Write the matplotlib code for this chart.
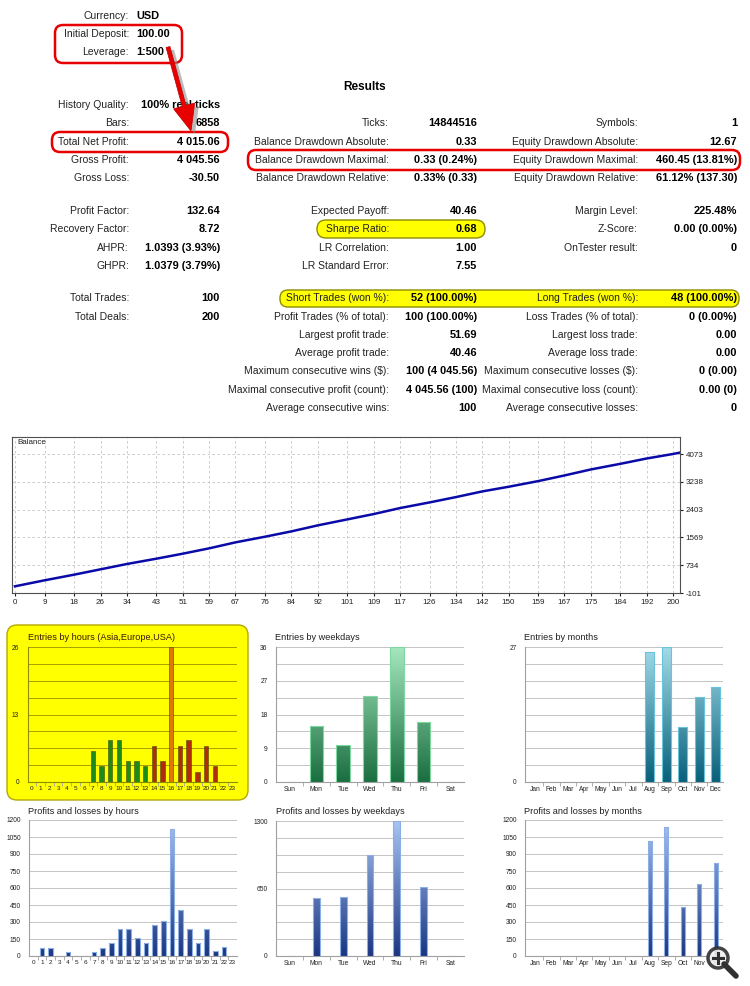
import numpy as np
import matplotlib
matplotlib.use('Agg')
import matplotlib.pyplot as plt
from matplotlib.patches import FancyBboxPatch, FancyArrow, Circle
from matplotlib.colors import LinearSegmentedColormap
from matplotlib.lines import Line2D

plt.rcParams['font.family'] = ['Liberation Sans', 'DejaVu Sans']

# ---------------- data ----------------
top_labels = ['Currency:', 'Initial Deposit:', 'Leverage:']
top_values = ['USD', '100.00', '1:500']

col1_labels = ['History Quality:', 'Bars:', 'Total Net Profit:', 'Gross Profit:', 'Gross Loss:',
               'Profit Factor:', 'Recovery Factor:', 'AHPR:', 'GHPR:', 'Total Trades:', 'Total Deals:']
col1_values = ['100% real ticks', '6858', '4 015.06', '4 045.56', '-30.50',
               '132.64', '8.72', '1.0393 (3.93%)', '1.0379 (3.79%)', '100', '200']

col2_labels = ['Ticks:', 'Balance Drawdown Absolute:', 'Balance Drawdown Maximal:', 'Balance Drawdown Relative:',
               'Expected Payoff:', 'Sharpe Ratio:', 'LR Correlation:', 'LR Standard Error:',
               'Short Trades (won %):', 'Profit Trades (% of total):', 'Largest profit trade:',
               'Average profit trade:', 'Maximum consecutive wins ($):', 'Maximal consecutive profit (count):',
               'Average consecutive wins:']
col2_values = ['14844516', '0.33', '0.33 (0.24%)', '0.33% (0.33)',
               '40.46', '0.68', '1.00', '7.55',
               '52 (100.00%)', '100 (100.00%)', '51.69',
               '40.46', '100 (4 045.56)', '4 045.56 (100)',
               '100']

col3_labels = ['Symbols:', 'Equity Drawdown Absolute:', 'Equity Drawdown Maximal:', 'Equity Drawdown Relative:',
               'Margin Level:', 'Z-Score:', 'OnTester result:',
               'Long Trades (won %):', 'Loss Trades (% of total):', 'Largest loss trade:', 'Average loss trade:',
               'Maximum consecutive losses ($):', 'Maximal consecutive loss (count):', 'Average consecutive losses:']
col3_values = ['1', '12.67', '460.45 (13.81%)', '61.12% (137.30)',
               '225.48%', '0.00 (0.00%)', '0',
               '48 (100.00%)', '0 (0.00%)', '0.00', '0.00',
               '0 (0.00)', '0.00 (0)', '0']

balance_deals = [0, 9, 18, 26, 34, 43, 51, 59, 67, 76, 84, 92, 101, 109, 117, 126, 134, 142, 150,
                 159, 167, 175, 184, 192, 200, 202]
balance_values = [100, 280, 450, 610, 770, 930, 1080, 1240, 1420, 1590, 1750, 1930, 2110, 2270, 2450,
                  2620, 2780, 2950, 3090, 3260, 3430, 3610, 3780, 3940, 4075, 4115]
balance_xticks = [0, 9, 18, 26, 34, 43, 51, 59, 67, 76, 84, 92, 101, 109, 117, 126, 134, 142, 150,
                  159, 167, 175, 184, 192, 200]
balance_yticks = [-101, 734, 1569, 2403, 3238, 4073]

hours = list(range(24))
entries_hours = [0, 0, 0, 0, 0, 0, 0, 6, 3, 8, 8, 4, 4, 3, 7, 4, 26, 7, 8, 2, 7, 3, 0, 0]
profit_hours = [0, 74, 74, 0, 38, 0, 0, 38, 74, 118, 236, 236, 160, 118, 275, 307, 1117, 408, 236,
                115, 236, 41, 80, 0]

weekdays = ['Sun', 'Mon', 'Tue', 'Wed', 'Thu', 'Fri', 'Sat']
entries_weekdays = [0, 15, 10, 23, 36, 16, 0]
profit_weekdays = [0, 560, 566, 972, 1300, 669, 0]

months = ['Jan', 'Feb', 'Mar', 'Apr', 'May', 'Jun', 'Jul', 'Aug', 'Sep', 'Oct', 'Nov', 'Dec']
entries_months = [0, 0, 0, 0, 0, 0, 0, 26, 27, 11, 17, 19]
profit_months = [0, 0, 0, 0, 0, 0, 0, 1014, 1138, 432, 632, 819]

# ---------------- figure ----------------
W, H = 750, 986
fig = plt.figure(figsize=(W / 100, H / 100), dpi=100)
fig.patch.set_facecolor('white')


def rect(x0, y0, x1, y1):
    return [x0 / W, 1 - y1 / H, (x1 - x0) / W, (y1 - y0) / H]


ax0 = fig.add_axes([0, 0, 1, 1], zorder=0)
ax0.set_xlim(0, W)
ax0.set_ylim(H, 0)
ax0.axis('off')

FSL = 7.5
FSV = 7.9
LAB = '#222222'


def rbox(x0, y0, x1, y1, fc, ec, lw, r):
    p = FancyBboxPatch((x0, y0), x1 - x0, y1 - y0, boxstyle=f'round,pad=0,rounding_size={r}',
                       fc=fc, ec=ec, lw=lw, zorder=1)
    ax0.add_patch(p)


# highlight boxes (behind text)
rbox(317, 220, 485, 238, '#ffff00', '#8c8c00', 1.0, 9)
rbox(280, 290, 739, 307, '#ffff00', '#8c8c00', 1.0, 8)

# top block
for lab, val, y in zip(top_labels, top_values, [16, 34, 52]):
    ax0.text(129, y, lab, ha='right', va='center', fontsize=FSL, color=LAB, zorder=3, parse_math=False)
    ax0.text(136, y, val, ha='left', va='center', fontsize=FSV, fontweight='bold', color='black', zorder=3,
             parse_math=False)

ax0.text(365, 87, 'Results', ha='center', va='center', fontsize=8.5, fontweight='bold', color='black', zorder=3)

rows1 = [105, 123, 142, 160, 178, 211, 229, 248, 266, 298, 317]
rows2 = [123, 142, 160, 178, 211, 229, 248, 266, 298, 317, 335, 353, 371, 390, 408]
rows3 = [123, 142, 160, 178, 211, 229, 248, 298, 317, 335, 353, 371, 390, 408]

for labs, vals, rows, xl, xv in [(col1_labels, col1_values, rows1, 129, 220),
                                 (col2_labels, col2_values, rows2, 389, 477),
                                 (col3_labels, col3_values, rows3, 638, 737)]:
    for lab, val, y in zip(labs, vals, rows):
        ax0.text(xl, y, lab, ha='right', va='center', fontsize=FSL, color=LAB, zorder=3, parse_math=False)
        ax0.text(xv, y, val, ha='right', va='center', fontsize=FSV, fontweight='bold', color='black',
                 zorder=3, parse_math=False)

# red boxes
for (x0, y0, x1, y1) in [(55, 25, 182, 63), (52, 132, 228, 152), (248, 150, 740, 170)]:
    p = FancyBboxPatch((x0, y0), x1 - x0, y1 - y0, boxstyle='round,pad=0,rounding_size=8',
                       fc='none', ec='#e80000', lw=1.8, zorder=4)
    ax0.add_patch(p)

# arrow with shadow
ax0.add_patch(FancyArrow(172, 50, 23, 84, width=4, head_width=22, head_length=26,
                         length_includes_head=True, fc='#909090', ec='none', alpha=0.6, zorder=5))
ax0.add_patch(FancyArrow(168, 47, 23, 84, width=4, head_width=22, head_length=26,
                         length_includes_head=True, fc='#e80000', ec='#c00000', lw=0.5, zorder=6))

# yellow panel background for first chart
rbox(7, 625, 248, 800, '#ffff00', '#b4a800', 1.0, 10)

# ---------------- balance chart ----------------
axb = fig.add_axes(rect(12, 437, 680, 593), zorder=2)
axb.plot(balance_deals, balance_values, color='#0a0aa8', lw=1.8)
axb.set_xlim(-0.9, 202.1)
axb.set_ylim(-101, 4585)
axb.set_xticks(balance_xticks)
axb.set_xticklabels([str(v) for v in balance_xticks])
axb.set_yticks(balance_yticks)
axb.set_yticklabels([str(v) for v in balance_yticks])
axb.yaxis.tick_right()
axb.tick_params(labelsize=5.8, length=2, pad=2, colors='#202020')
axb.grid(True, ls=(0, (3, 3)), color='#c4c4c4', lw=0.6)
for s in axb.spines.values():
    s.set_color('#505050')
    s.set_linewidth(0.8)
axb.text(5 / 668, 1 - 6 / 156, 'Balance', transform=axb.transAxes, ha='left', va='center', fontsize=5.8,
         color='#202020')


# ---------------- small charts ----------------
def style_panel(ax, ylim, major, minor, labels, xlabels, gridc, spinec, xlim, fsx=4.8):
    ax.set_facecolor('none')
    ax.set_xlim(*xlim)
    ax.set_ylim(0, ylim)
    ax.set_yticks(major)
    ax.set_yticklabels(labels)
    ax.set_yticks(minor, minor=True)
    ax.set_xticks(range(len(xlabels)))
    ax.set_xticklabels(xlabels)
    ax.set_xticks(np.arange(len(xlabels) - 1) + 0.5, minor=True)
    ax.tick_params(axis='y', which='both', length=0, pad=6, labelsize=4.8, colors='#202020')
    ax.tick_params(axis='x', which='major', length=0, pad=3, labelsize=fsx, colors='#202020')
    ax.tick_params(axis='x', which='minor', length=3, width=0.6, color='#a0a0a0', direction='out')
    ax.grid(True, axis='y', which='both', color=gridc, lw=0.7, ls='-')
    ax.set_axisbelow(True)
    ax.spines['top'].set_visible(False)
    ax.spines['right'].set_visible(False)
    ax.spines['left'].set_color(spinec)
    ax.spines['bottom'].set_color(spinec)
    ax.spines['left'].set_linewidth(0.8)
    ax.spines['bottom'].set_linewidth(0.8)


def gradient_bars(ax, xs, vals, width, c_bot, c_top, ymax, edge):
    bars = ax.bar(xs, vals, width=width, color=c_bot, zorder=3, lw=0)
    cmap = LinearSegmentedColormap.from_list('g', [c_bot, c_top])
    grad = np.linspace(0, 1, 256).reshape(-1, 1)
    for b in bars:
        if b.get_height() <= 0:
            continue
        x0 = b.get_x()
        w = b.get_width()
        im = ax.imshow(grad, cmap=cmap, origin='lower', aspect='auto', vmin=0, vmax=1,
                       extent=[x0, x0 + w, 0, ymax], zorder=3.5, interpolation='bilinear')
        im.set_clip_path(b)
    ax.bar(xs, vals, width=width, fill=False, edgecolor=edge, lw=0.8, zorder=4)


def title(ax, x, y, t, color='#202020'):
    ax0.text(x, y, t, ha='left', va='center', fontsize=6.6, color=color, zorder=3)


# P1 entries by hours
ax1 = fig.add_axes(rect(27.6, 647, 236.5, 782), zorder=2)
peak = max(entries_hours)
cols1 = []
for h, v in zip(hours, entries_hours):
    if v == peak:
        cols1.append('#e07800')
    elif h >= 14:
        cols1.append('#b02c0c')
    else:
        cols1.append('#1c8a1c')
ax1.bar(hours, entries_hours, width=0.5, color=cols1, edgecolor='#4a4a00', lw=0.4, zorder=3)
style_panel(ax1, 26, [0, 13, 26], [3.25, 6.5, 9.75, 16.25, 19.5, 22.75], ['0', '13', '26'],
            [str(h) for h in hours], '#a8a000', '#8c8c00', (-0.5, 23.5), fsx=4.6)
title(ax1, 28, 637, 'Entries by hours (Asia,Europe,USA)', color='#3a1800')

# P2 entries by weekdays
ax2 = fig.add_axes(rect(276, 647, 464, 782), zorder=2)
gradient_bars(ax2, range(7), entries_weekdays, 0.5, '#1a6e40', '#a6e8c0', 36, '#7ed8a0')
style_panel(ax2, 36, [0, 9, 18, 27, 36], [4.5, 13.5, 22.5, 31.5], ['0', '9', '18', '27', '36'],
            weekdays, '#c4c4c4', '#a0a0a0', (-0.5, 6.5))
title(ax2, 275, 637, 'Entries by weekdays')

# P3 entries by months
ax3 = fig.add_axes(rect(525, 647, 723, 782), zorder=2)
gradient_bars(ax3, range(12), entries_months, 0.55, '#08607a', '#a4dcea', 27, '#68c4dc')
style_panel(ax3, 27, [0, 27], [3.375 * i for i in range(1, 8)], ['0', '27'],
            months, '#c4c4c4', '#a0a0a0', (-0.6, 11.45))
title(ax3, 524, 637, 'Entries by months')

# P4 profits by hours
ax4 = fig.add_axes(rect(29, 820, 237, 956), zorder=2)
gradient_bars(ax4, hours, profit_hours, 0.55, '#1a3682', '#a8c4f2', 1200, '#8eaee6')
style_panel(ax4, 1200, list(range(0, 1201, 150)), [], [str(v) for v in range(0, 1201, 150)],
            [str(h) for h in hours], '#c4c4c4', '#a0a0a0', (-0.5, 23.5), fsx=4.6)
title(ax4, 28, 811, 'Profits and losses by hours')

# P5 profits by weekdays
ax5 = fig.add_axes(rect(276, 821, 464, 956), zorder=2)
gradient_bars(ax5, range(7), profit_weekdays, 0.26, '#1a3682', '#a8c4f2', 1300, '#8eaee6')
style_panel(ax5, 1300, [0, 650, 1300], [162.5, 325, 487.5, 812.5, 975, 1137.5], ['0', '650', '1300'],
            weekdays, '#c4c4c4', '#a0a0a0', (-0.5, 6.5))
title(ax5, 276, 811, 'Profits and losses by weekdays')

# P6 profits by months
ax6 = fig.add_axes(rect(525, 820, 723, 956), zorder=2)
gradient_bars(ax6, range(12), profit_months, 0.25, '#1a3682', '#a8c4f2', 1200, '#8eaee6')
style_panel(ax6, 1200, list(range(0, 1201, 150)), [], [str(v) for v in range(0, 1201, 150)],
            months, '#c4c4c4', '#a0a0a0', (-0.6, 11.45))
title(ax6, 524, 811, 'Profits and losses by months')

# overlay: magnifier icon
axo = fig.add_axes([0, 0, 1, 1], zorder=10)
axo.set_xlim(0, W)
axo.set_ylim(H, 0)
axo.axis('off')
axo.patch.set_alpha(0)
axo.add_line(Line2D([724, 736], [964, 976], color='#303030', lw=4, solid_capstyle='round'))
axo.add_patch(Circle((718, 958), 10, fc='#f0f0f0', ec='#303030', lw=2.5, alpha=0.9))
axo.add_line(Line2D([713, 723], [958, 958], color='#303030', lw=2.2))
axo.add_line(Line2D([718, 718], [953, 963], color='#303030', lw=2.2))

fig.savefig('out.png', dpi=100, facecolor='white')
